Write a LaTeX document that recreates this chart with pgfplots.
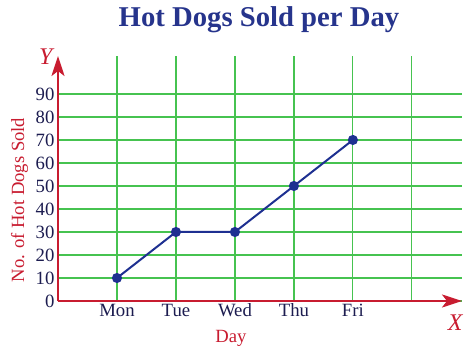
\documentclass[border=0pt]{standalone}
\usepackage{pgfplots}
\pgfplotsset{compat=1.18}
\usepackage{fontspec}
\setmainfont{Liberation Serif}
\usetikzlibrary{arrows.meta}
\definecolor{titleblue}{RGB}{38,52,140}
\definecolor{axred}{RGB}{200,28,48}
\definecolor{gridgreen}{RGB}{70,195,80}
\definecolor{lineblue}{RGB}{30,48,145}
\definecolor{ticknavy}{RGB}{28,28,80}
\begin{document}
\begin{tikzpicture}
\useasboundingbox (-58bp,-55bp) rectangle (416bp,301bp);
\begin{axis}[
  scale only axis,
  width=404bp, height=245bp,
  xmin=0, xmax=6.85, ymin=0, ymax=106.5,
  axis lines=left,
  axis line style={draw=axred, line width=2.4bp, -{Stealth[length=20bp,width=13bp,inset=5bp]}},
  xtick={1,2,3,4,5,6},
  xticklabels={Mon,Tue,Wed,Thu,Fri,{}},
  ytick={0,10,...,90},
  major tick length=0pt,
  grid=major,
  major grid style={draw=gridgreen, line width=1.2bp},
  ticklabel style={font=\fontsize{18.8}{20}\selectfont, text=ticknavy},
  xticklabel style={text height=12.5bp, text depth=4bp, yshift=1bp},
  /pgf/number format/assume math mode=true,
  title={Hot Dogs Sold per Day},
  title style={at={(axis description cs:0.4975,1.094)}, anchor=base, font=\fontsize{28.8}{30}\selectfont\bfseries, text=titleblue},
  xlabel={Day},
  ylabel={No. of Hot Dogs Sold},
  every axis x label/.style={at={(axis description cs:0.428,-0.151)}, anchor=center, font=\fontsize{18.7}{20}\selectfont, text=axred},
  every axis y label/.style={at={(axis description cs:-0.095,0.412)}, rotate=90, anchor=center, font=\fontsize{18.7}{20}\selectfont, text=axred},
  clip=false,
]
\addplot[lineblue, line width=2bp, mark=*, mark size=4bp, mark options={fill=lineblue, draw=lineblue}]
  coordinates {(1,10) (2,30) (3,30) (4,50) (5,70)};
\node[text=axred, font=\fontsize{24}{26}\selectfont\itshape] at (axis description cs:-0.03,0.996) {Y};
\node[text=axred, font=\fontsize{24}{26}\selectfont\itshape] at (axis description cs:0.983,-0.09) {X};
\end{axis}
\end{tikzpicture}
\end{document}
